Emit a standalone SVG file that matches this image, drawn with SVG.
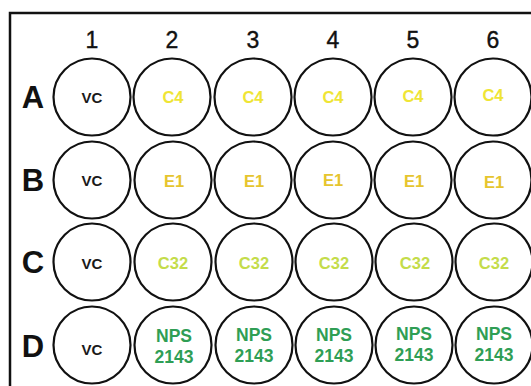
<svg xmlns="http://www.w3.org/2000/svg" width="531" height="386" viewBox="0 0 531 386">
<style>
.well{fill:#fff;stroke:#111;stroke-width:2.2}
.col{font-family:"Liberation Sans",Arial,sans-serif;font-size:23px;fill:#111;text-anchor:middle;stroke:#111;stroke-width:0.4}
.row{font-family:"Liberation Sans",Arial,sans-serif;font-size:31px;font-weight:bold;fill:#111;text-anchor:middle}
.t{font-family:"Liberation Sans",Arial,sans-serif;font-weight:bold;text-anchor:middle}
.vc{font-size:15px;fill:#1a1a1a}
.c4{font-size:16.5px;fill:#efe535}
.e1{font-size:16.5px;fill:#e6c52e}
.c32{font-size:16.5px;fill:#c4dc4a}
.nps{font-size:17.5px;fill:#2f9e55}
</style>
<rect width="531" height="386" fill="#fff"/>
<path d="M10,386 V13 H531" fill="none" stroke="#111" stroke-width="2.5"/>
<g id="col-labels">
<text class="col" x="92" y="48">1</text>
<text class="col" x="172" y="48">2</text>
<text class="col" x="253" y="48">3</text>
<text class="col" x="333" y="48">4</text>
<text class="col" x="413" y="48">5</text>
<text class="col" x="493" y="48">6</text>
</g>
<g id="row-labels">
<text class="row" x="33" y="108">A</text>
<text class="row" x="33" y="191">B</text>
<text class="row" x="33" y="273">C</text>
<text class="row" x="33" y="357">D</text>
</g>
<g id="A1"><circle class="well" cx="92" cy="97" r="38.5"/><text class="t vc" x="92" y="103">VC</text></g>
<g id="A2"><circle class="well" cx="172" cy="97" r="38.5"/><text class="t c4" x="173" y="103">C4</text></g>
<g id="A3"><circle class="well" cx="253" cy="97" r="38.5"/><text class="t c4" x="253" y="103">C4</text></g>
<g id="A4"><circle class="well" cx="333" cy="97" r="38.5"/><text class="t c4" x="333" y="103">C4</text></g>
<g id="A5"><circle class="well" cx="413" cy="97" r="38.5"/><text class="t c4" x="413" y="102">C4</text></g>
<g id="A6"><circle class="well" cx="493" cy="97" r="38.5"/><text class="t c4" x="493" y="101">C4</text></g>
<g id="B1"><circle class="well" cx="92" cy="180" r="38.5"/><text class="t vc" x="92" y="186">VC</text></g>
<g id="B2"><circle class="well" cx="173" cy="180" r="38.5"/><text class="t e1" x="174" y="187">E1</text></g>
<g id="B3"><circle class="well" cx="253" cy="180" r="38.5"/><text class="t e1" x="254" y="187">E1</text></g>
<g id="B4"><circle class="well" cx="333" cy="180" r="38.5"/><text class="t e1" x="333" y="186">E1</text></g>
<g id="B5"><circle class="well" cx="413" cy="180" r="38.5"/><text class="t e1" x="414" y="187">E1</text></g>
<g id="B6"><circle class="well" cx="493" cy="180" r="38.5"/><text class="t e1" x="494" y="188">E1</text></g>
<g id="C1"><circle class="well" cx="92" cy="262" r="38.5"/><text class="t vc" x="92" y="269">VC</text></g>
<g id="C2"><circle class="well" cx="173" cy="262" r="38.5"/><text class="t c32" x="173" y="269">C32</text></g>
<g id="C3"><circle class="well" cx="254" cy="262" r="38.5"/><text class="t c32" x="254" y="269">C32</text></g>
<g id="C4w"><circle class="well" cx="334" cy="262" r="38.5"/><text class="t c32" x="334" y="269">C32</text></g>
<g id="C5"><circle class="well" cx="414" cy="262" r="38.5"/><text class="t c32" x="415" y="269">C32</text></g>
<g id="C6"><circle class="well" cx="494" cy="262" r="38.5"/><text class="t c32" x="494" y="269">C32</text></g>
<g id="D1"><circle class="well" cx="92" cy="345" r="38.5"/><text class="t vc" x="92" y="355">VC</text></g>
<g id="D2"><circle class="well" cx="173" cy="345" r="38.5"/><text class="t nps" x="174" y="342">NPS</text><text class="t nps" x="174" y="363">2143</text></g>
<g id="D3"><circle class="well" cx="254" cy="345" r="38.5"/><text class="t nps" x="254" y="341">NPS</text><text class="t nps" x="254" y="362">2143</text></g>
<g id="D4"><circle class="well" cx="334" cy="345" r="38.5"/><text class="t nps" x="334" y="341">NPS</text><text class="t nps" x="334" y="362">2143</text></g>
<g id="D5"><circle class="well" cx="414" cy="345" r="38.5"/><text class="t nps" x="414" y="340">NPS</text><text class="t nps" x="414" y="361">2143</text></g>
<g id="D6"><circle class="well" cx="494" cy="345" r="38.5"/><text class="t nps" x="494" y="340">NPS</text><text class="t nps" x="494" y="361">2143</text></g>
</svg>
